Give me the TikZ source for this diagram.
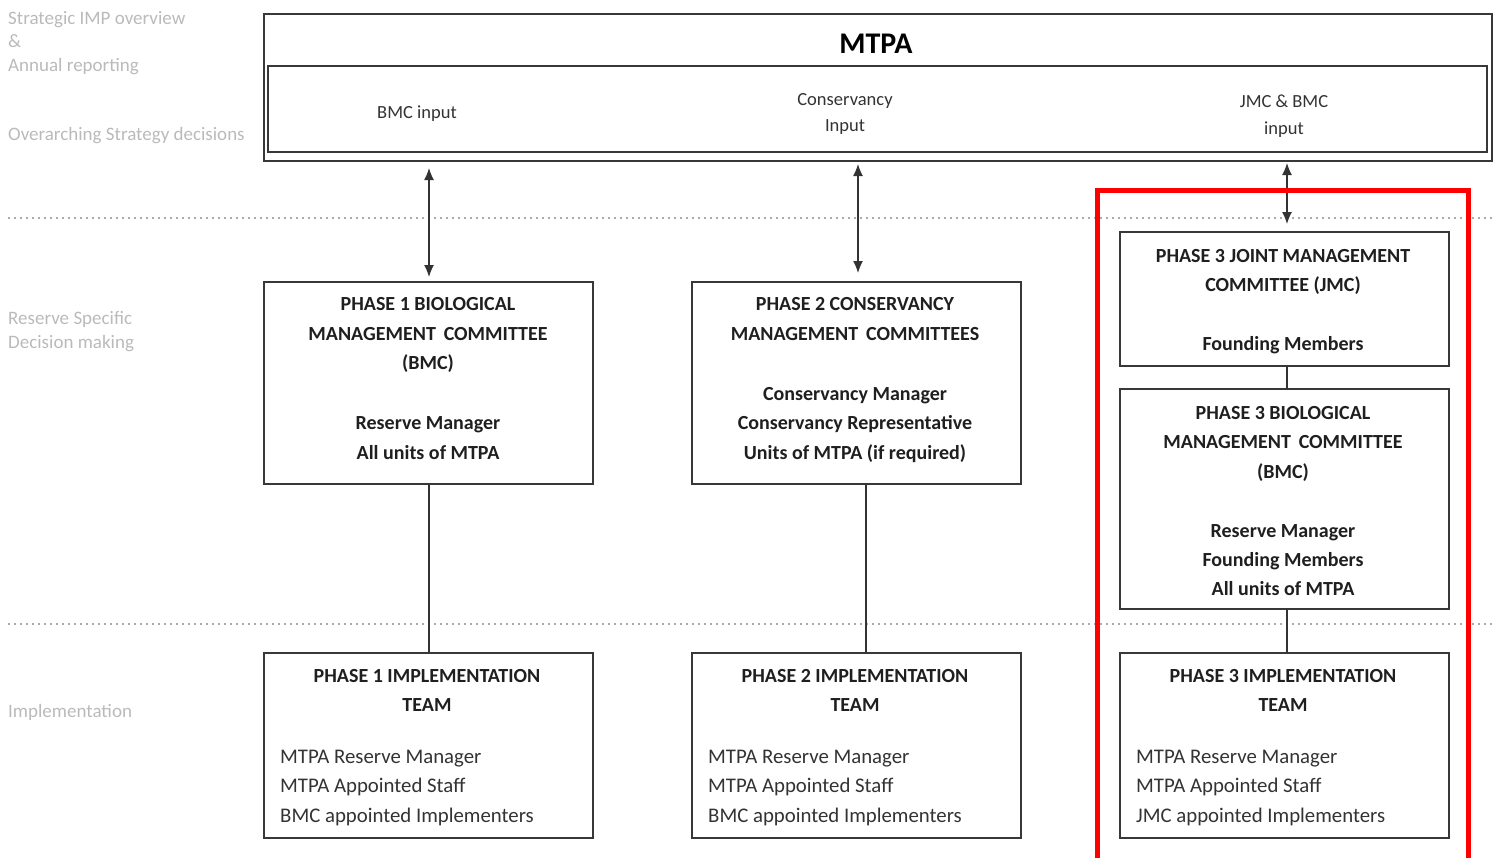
\documentclass[tikz,border=0pt]{standalone}
\usepackage{fontspec}
\setmainfont{Carlito}
\usetikzlibrary{arrows.meta}
\begin{document}
\begin{tikzpicture}[x=1pt,y=-1pt,
  box/.style={draw=black!78, line width=1.4pt, fill=white, inner sep=0pt, outer sep=0pt},
  bt/.style={font=\fontsize{20}{23}\selectfont\bfseries, text=black!88, inner sep=0pt, anchor=base},
  rt/.style={font=\fontsize{20.8}{24}\selectfont, text=black!80, inner sep=0pt, anchor=base},
  st/.style={font=\fontsize{18.5}{21}\selectfont, text=black!80, inner sep=0pt, anchor=base},
  gl/.style={font=\fontsize{19}{22}\selectfont, text=black!27, inner sep=0pt, anchor=base west},
  conn/.style={draw=black!80, line width=1.3pt},
  biarrow/.style={conn, {Latex[length=12pt,width=10pt]}-{Latex[length=12pt,width=10pt]}},
  dots/.style={draw=black!33, line width=2.6pt, dash pattern=on 2.4pt off 3.6pt}]
\useasboundingbox (0,0) rectangle (1494,857);
\clip (0,0) rectangle (1494,857);

% left labels
\node[gl] (l1) at (8,24) {Strategic IMP overview};
\node[gl] (l2) at (8,47) {\&};
\node[gl] (l3) at (8,71) {Annual reporting};
\node[gl] (l4) at (8,140) {Overarching Strategy decisions};
\node[gl] (l5) at (8,324) {Reserve Specific};
\node[gl] (l6) at (8,348) {Decision making};
\node[gl] (l7) at (8,717) {Implementation};

% dotted separators
\coordinate (d1a) at (8,218); \coordinate (d1b) at (1494,218);
\coordinate (d2a) at (8,624); \coordinate (d2b) at (1494,624);
\draw[dots] (d1a) -- (d1b);
\draw[dots] (d2a) -- (d2b);

% MTPA box
\node[box, minimum width=1228pt, minimum height=147pt] (mtpa) at (878,87.5) {};
\node[box, minimum width=1219pt, minimum height=86pt] (inputs) at (877.5,109) {};
\node[bt, font=\fontsize{30}{33}\selectfont\bfseries, text=black] (mtpat) at (876,53) {MTPA};
\node[st] (in1) at (417,118) {BMC input};
\node[st] (in2a) at (845,105) {Conservancy};
\node[st] (in2b) at (845,131) {Input};
\node[st] (in3a) at (1284,107) {JMC \& BMC};
\node[st] (in3b) at (1284,134) {input};

% committee boxes
\node[box, minimum width=329pt, minimum height=202pt] (p1) at (428.5,383) {};
\node[box, minimum width=329pt, minimum height=202pt] (p2) at (856.5,383) {};
\node[box, minimum width=329pt, minimum height=134pt] (p3j) at (1284.5,299) {};
\node[box, minimum width=329pt, minimum height=220pt] (p3b) at (1284.5,499) {};

% implementation boxes
\node[box, minimum width=329pt, minimum height=185pt] (i1) at (428.5,745.5) {};
\node[box, minimum width=329pt, minimum height=185pt] (i2) at (856.5,745.5) {};
\node[box, minimum width=329pt, minimum height=185pt] (i3) at (1284.5,745.5) {};

% connectors
\coordinate (x1) at (429,0);
\coordinate (x2) at (858,0);
\coordinate (x2b) at (866,0);
\coordinate (x3) at (1287,0);
\draw[biarrow, shorten <=7pt, shorten >=5pt] (mtpa.south -| x1) -- (p1.north -| x1);
\draw[biarrow, shorten <=3pt, shorten >=9pt] (mtpa.south -| x2) -- (p2.north -| x2);
\draw[biarrow, shorten <=2pt, shorten >=8pt] (mtpa.south -| x3) -- (p3j.north -| x3);
\draw[conn] (p1.south -| x1) -- (i1.north -| x1);
\draw[conn] (p2.south -| x2b) -- (i2.north -| x2b);
\draw[conn] (p3j.south -| x3) -- (p3b.north -| x3);
\draw[conn] (p3b.south -| x3) -- (i3.north -| x3);

% Phase 1 BMC text
\node[bt] (p1a) at (428,310) {PHASE 1 BIOLOGICAL};
\node[bt] (p1b) at (428,340) {MANAGEMENT\, COMMITTEE};
\node[bt] (p1c) at (428,369) {(BMC)};
\node[bt] (p1d) at (428,429) {Reserve Manager};
\node[bt] (p1e) at (428,459) {All units of MTPA};

% Phase 2 text
\node[bt] (p2a) at (855,310) {PHASE 2 CONSERVANCY};
\node[bt] (p2b) at (855,340) {MANAGEMENT\, COMMITTEES};
\node[bt] (p2c) at (855,400) {Conservancy Manager};
\node[bt] (p2d) at (855,429) {Conservancy Representative};
\node[bt] (p2e) at (855,459) {Units of MTPA (if required)};

% Phase 3 JMC text
\node[bt] (p3a) at (1283,262) {PHASE 3 JOINT MANAGEMENT};
\node[bt] (p3b1) at (1283,291) {COMMITTEE (JMC)};
\node[bt] (p3c) at (1283,350) {Founding Members};

% Phase 3 BMC text
\node[bt] (q1) at (1283,419) {PHASE 3 BIOLOGICAL};
\node[bt] (q2) at (1283,448) {MANAGEMENT\, COMMITTEE};
\node[bt] (q3) at (1283,478) {(BMC)};
\node[bt] (q4) at (1283,537) {Reserve Manager};
\node[bt] (q5) at (1283,566) {Founding Members};
\node[bt] (q6) at (1283,595) {All units of MTPA};

% Implementation texts
\node[bt] (i1a) at (427,682) {PHASE 1 IMPLEMENTATION};
\node[bt] (i1b) at (427,711) {TEAM};
\node[rt, anchor=base west] (i1c) at (280,763) {MTPA Reserve Manager};
\node[rt, anchor=base west] (i1d) at (280,792) {MTPA Appointed Staff};
\node[rt, anchor=base west] (i1e) at (280,822) {BMC appointed Implementers};

\node[bt] (i2a) at (855,682) {PHASE 2 IMPLEMENTATION};
\node[bt] (i2b) at (855,711) {TEAM};
\node[rt, anchor=base west] (i2c) at (708,763) {MTPA Reserve Manager};
\node[rt, anchor=base west] (i2d) at (708,792) {MTPA Appointed Staff};
\node[rt, anchor=base west] (i2e) at (708,822) {BMC appointed Implementers};

\node[bt] (i3a) at (1283,682) {PHASE 3 IMPLEMENTATION};
\node[bt] (i3b) at (1283,711) {TEAM};
\node[rt, anchor=base west] (i3c) at (1136,763) {MTPA Reserve Manager};
\node[rt, anchor=base west] (i3d) at (1136,792) {MTPA Appointed Staff};
\node[rt, anchor=base west] (i3e) at (1136,822) {JMC appointed Implementers};

% red highlight frame
\coordinate (r1) at (1097,880);
\coordinate (r2) at (1097,190);
\coordinate (r3) at (1468,190);
\coordinate (r4) at (1468,880);
\draw[red, line width=5pt] (r1) -- (r2) -- (r3) -- (r4);
\end{tikzpicture}
\end{document}
